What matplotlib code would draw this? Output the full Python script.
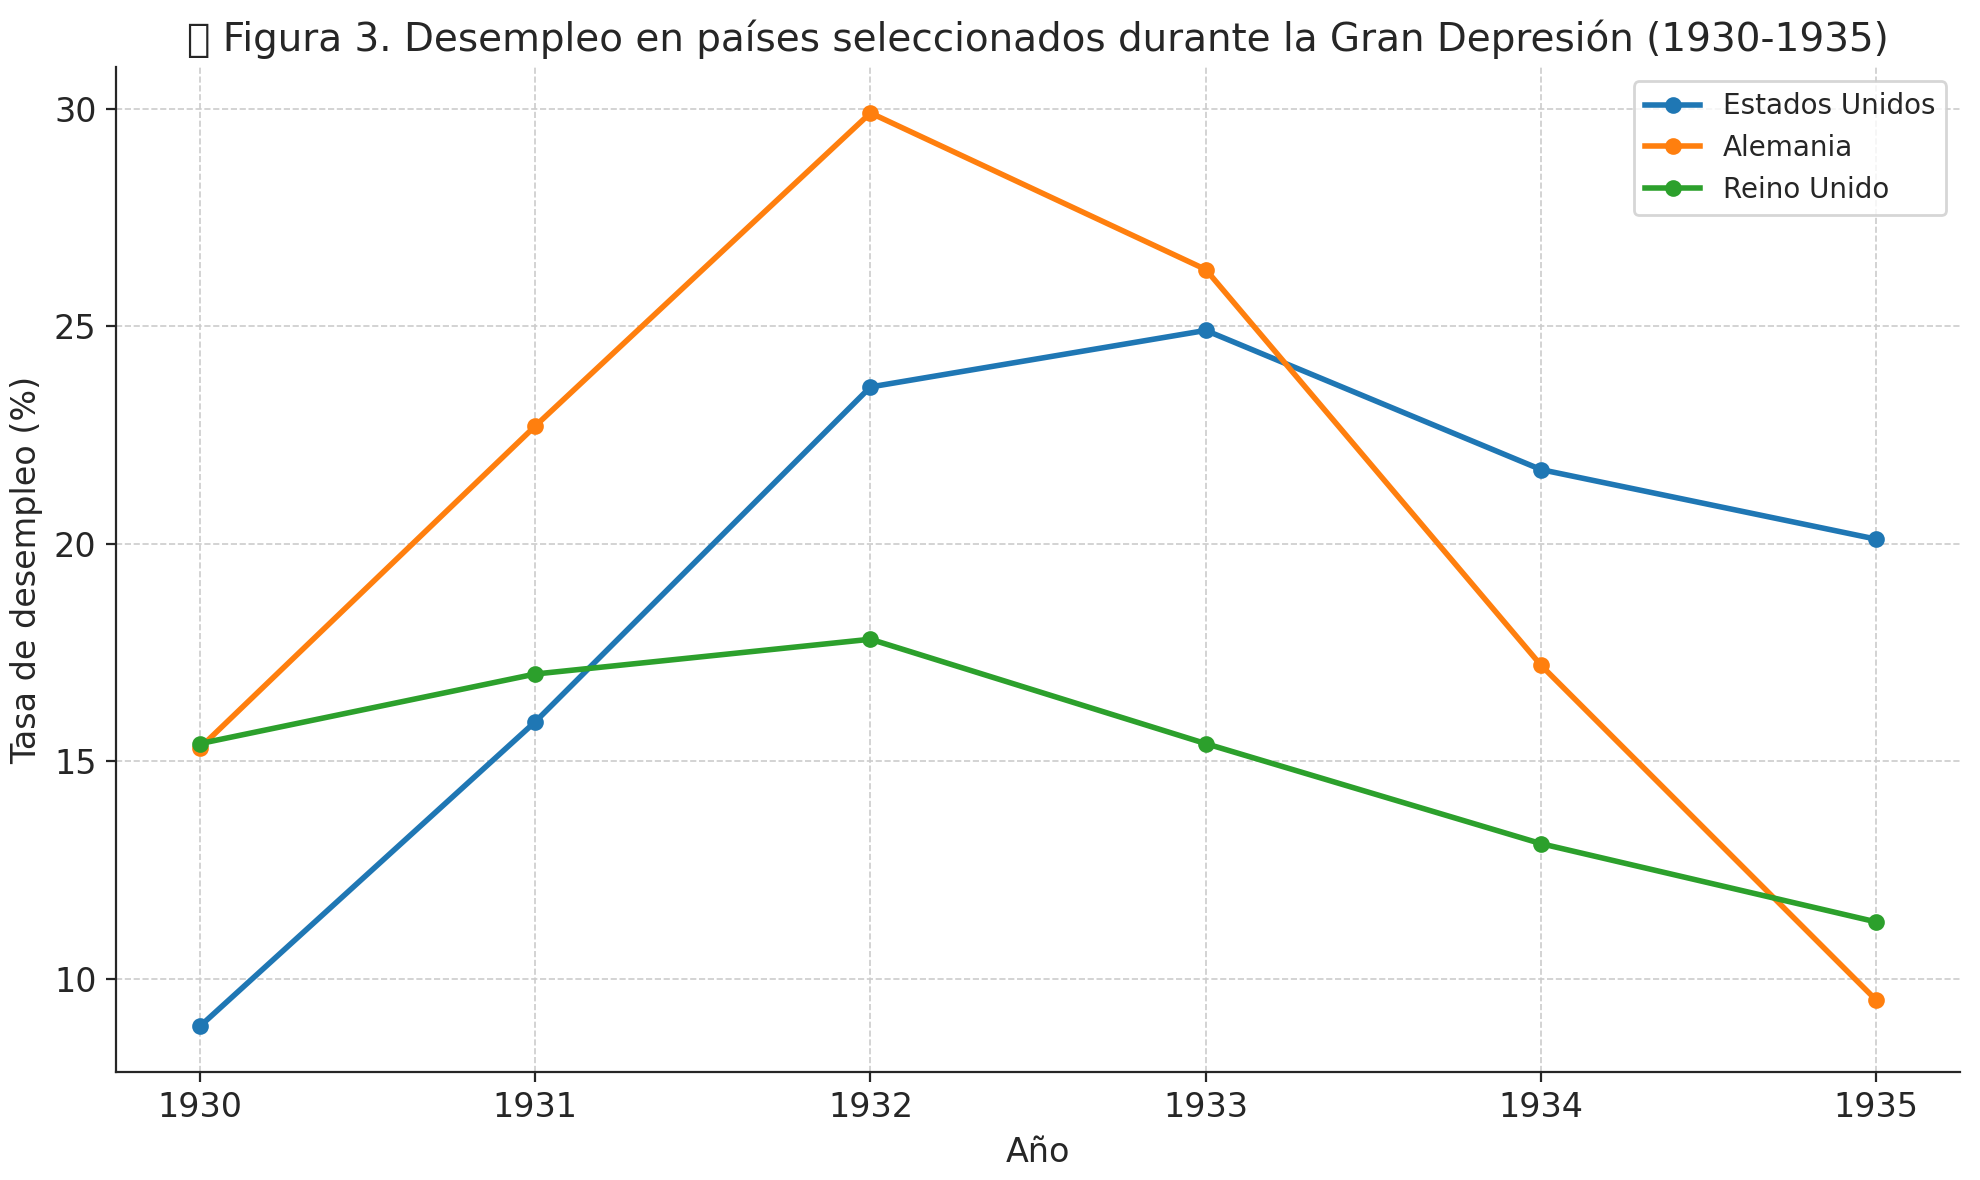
import numpy as np
import matplotlib
matplotlib.use('Agg')
import matplotlib.pyplot as plt

# unemployment data
years = [1930, 1931, 1932, 1933, 1934, 1935]
usa = [8.9, 15.9, 23.6, 24.9, 21.7, 20.1]
alemania = [15.3, 22.7, 29.9, 26.3, 17.2, 9.5]
reino_unido = [15.4, 17.0, 17.8, 15.4, 13.1, 11.3]
labels = ['Estados Unidos', 'Alemania', 'Reino Unido']

plt.rcParams['font.family'] = ['DejaVu Sans']
plt.rcParams['text.color'] = '#262626'
plt.rcParams['axes.labelcolor'] = '#262626'
plt.rcParams['xtick.color'] = '#262626'
plt.rcParams['ytick.color'] = '#262626'

fig = plt.figure(figsize=(9.9, 5.9), dpi=200)
ax = plt.subplot(111)
for vals, lab in zip([usa, alemania, reino_unido], labels):
    ax.plot(years, vals, marker='o', linewidth=2, markersize=5, label=lab)

# the reference shows the emoji as an empty box too
ax.set_title('\U0001F4CA Figura 3. Desempleo en países seleccionados durante la Gran Depresión (1930-1935)',
             fontsize=14)
ax.set_xlabel('Año', fontsize=12)
ax.set_ylabel('Tasa de desempleo (%)', fontsize=12)
ax.set_xticks(years)
ax.tick_params(labelsize=12)
ax.grid(True, linestyle='--', linewidth=0.6, color='#cccccc')
ax.spines['top'].set_visible(False)
ax.spines['right'].set_visible(False)
for s in ['left', 'bottom']:
    ax.spines[s].set_color('#262626')
ax.legend(loc='upper right', fontsize=10)

fig.subplots_adjust(left=0.0586, right=0.990, bottom=0.0915, top=0.943)
fig.savefig('out.png', dpi=200)
plt.close(fig)
